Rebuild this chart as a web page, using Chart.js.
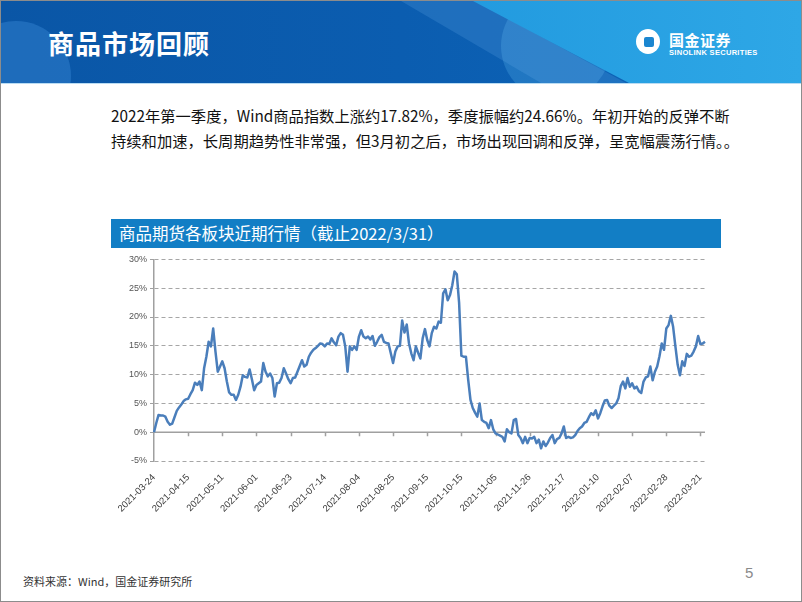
<!DOCTYPE html>
<html>
<head>
<meta charset="utf-8">
<script src="https://cdn.jsdelivr.net/npm/chart.js@4/dist/chart.umd.min.js"></script>
<style>
  html, body { margin: 0; padding: 0; background: #fff; }
  #page {
    position: relative; width: 800px; height: 600px; overflow: hidden;
    border: 1px solid #8c8c8c; background: #fff;
    font-family: "Noto Sans CJK SC", "Noto Sans", sans-serif;
  }
  #banner {
    position: absolute; left: 0; top: 0; width: 800px; height: 82px; overflow: hidden;
    background: linear-gradient(90deg, #0a56a6 0%, #0b5db0 50%, #0d66ba 100%);
    border-bottom: 1px solid #b9dcf3;
  }
  #banner .glow {
    position: absolute; left: -40px; top: 20px; width: 110px; height: 110px; border-radius: 50%;
    background: rgba(70,150,225,0.35);
  }
  #banner .band {
    position: absolute; left: 0; top: 0; width: 800px; height: 82px;
    background: rgba(120,190,245,0.18);
    clip-path: polygon(400px 0, 475px 0, 625px 82px, 540px 82px);
  }
  #banner .circle {
    position: absolute; left: 500px; top: -10px; width: 110px; height: 110px; border-radius: 50%;
    background: rgba(110,200,250,0.22);
  }
  #banner .light {
    position: absolute; left: 0; top: 0; width: 800px; height: 82px;
    background: linear-gradient(90deg, #1283cf 0%, #1d95dc 40%, #2ea7e6 100%);
    clip-path: polygon(472px 0, 800px 0, 800px 82px, 628px 82px);
  }
  #banner h1 {
    position: absolute; left: 47px; top: 23px; margin: 0;
    color: #fff; font-size: 26px; font-weight: bold; letter-spacing: 1px;
  }
  #logo-icon {
    position: absolute; left: 635px; top: 28px; width: 24px; height: 25px;
    background: #fff; border-radius: 50%;
  }
  #logo-icon div {
    position: absolute; left: 8px; top: 8px; width: 10px; height: 10px; background: #1b86d0; border-radius: 2px;
  }
  #logo-cn {
    position: absolute; left: 668px; top: 28px; color: #fff; font-size: 15px; font-weight: bold; letter-spacing: 0.5px;
  }
  #logo-en {
    position: absolute; left: 668px; top: 47px; color: #fff; font-size: 7.5px; font-weight: bold;
    font-family: "Liberation Sans", sans-serif; letter-spacing: 0.3px;
  }
  #intro {
    position: absolute; left: 110px; top: 102px; font-size: 15.3px; line-height: 25px;
    color: #111; white-space: nowrap;
  }
  #chart-title {
    position: absolute; left: 110px; top: 218px; width: 610px; height: 29px;
    background: #127ec5; color: #fff; font-size: 16.5px; line-height: 29px;
    padding-left: 8px; box-sizing: border-box;
  }
  #chart-wrap { position: absolute; left: 110px; top: 250px; width: 610px; height: 290px; }
  #source { position: absolute; left: 22px; top: 572px; font-size: 11px; color: #333; }
  #pageno { position: absolute; left: 744px; top: 563px; font-size: 15px; color: #8a8a8a;
    font-family: "Liberation Sans", sans-serif; }
</style>
</head>
<body>
<div id="page">
  <div id="banner">
    <div class="glow"></div>
    <div class="circle"></div>
    <div class="band"></div>
    <div class="light"></div>
    <h1>商品市场回顾</h1>
    <div id="logo-icon"><div></div></div>
    <div id="logo-cn">国金证券</div>
    <div id="logo-en">SINOLINK SECURITIES</div>
  </div>
  <div id="intro">2022年第一季度，Wind商品指数上涨约17.82%，季度振幅约24.66%。年初开始的反弹不断<br>持续和加速，长周期趋势性非常强，但3月初之后，市场出现回调和反弹，呈宽幅震荡行情。。</div>
  <div id="chart-title">商品期货各板块近期行情（截止2022/3/31）</div>
  <div id="chart-wrap"><canvas id="canvasIndex"></canvas></div>
  <div id="source">资料来源：Wind，国金证券研究所</div>
  <div id="pageno">5</div>
</div>

<script>
"use strict";

// x axis labels, one every 15 trading days
var tickLabels = [
	'2021-03-24', '2021-04-15', '2021-05-11', '2021-06-01', '2021-06-23',
	'2021-07-14', '2021-08-04', '2021-08-25', '2021-09-15', '2021-10-15',
	'2021-11-05', '2021-11-26', '2021-12-17', '2022-01-10', '2022-02-07',
	'2022-02-28', '2022-03-21'
];
var tickEvery = 15;

// Wind commodity index, % change since 2021-03-24 (daily)
var indexChange = [
	0.0, 1.6, 3.0, 2.9, 2.9, 2.7, 1.8, 1.3, 1.5, 2.6,
	3.7, 4.3, 4.8, 5.4, 5.7, 5.8, 6.6, 7.3, 8.6, 8.2,
	8.8, 7.3, 11.1, 13.1, 15.7, 14.9, 18.0, 14.0, 10.5, 11.4,
	12.3, 11.1, 8.8, 6.9, 6.5, 6.5, 5.6, 6.5, 7.9, 9.9,
	9.6, 9.5, 10.9, 9.2, 7.3, 8.2, 8.5, 8.8, 12.0, 10.5,
	9.7, 10.2, 9.4, 6.2, 8.5, 8.6, 9.4, 11.1, 10.2, 9.2,
	8.5, 9.4, 9.5, 10.5, 11.5, 12.5, 11.4, 11.7, 13.1, 13.8,
	14.3, 14.6, 15.0, 15.4, 15.3, 14.9, 15.4, 15.3, 16.3, 15.6,
	15.1, 16.6, 17.2, 16.9, 14.9, 10.5, 14.9, 14.3, 14.9, 14.3,
	16.6, 17.7, 16.6, 16.3, 16.6, 16.1, 16.7, 15.0, 15.7, 16.5,
	16.9, 15.7, 15.5, 15.4, 13.7, 12.0, 14.0, 14.9, 15.0, 19.4,
	17.3, 18.7, 15.4, 13.7, 12.5, 14.9, 13.8, 12.8, 16.3, 17.9,
	16.0, 14.9, 17.2, 18.3, 18.0, 19.2, 19.0, 24.1, 24.8, 22.9,
	23.8, 25.5, 27.9, 27.4, 22.5, 13.3, 13.1, 13.1, 9.1, 5.6,
	4.2, 3.4, 2.7, 5.0, 2.1, 1.8, 1.6, 0.7, 2.1, 0.5,
	-0.2, -0.4, -0.6, -0.8, -1.6, 0.5, 0.0, -0.2, 2.1, 2.3,
	-0.5, -1.0, -1.9, -0.8, -1.9, -1.0, -1.1, -0.8, -1.9, -1.3,
	-2.8, -1.6, -2.4, -1.8, -1.0, -0.5, -1.9, -1.2, -1.0, -0.2,
	1.0, -1.0, -0.8, -1.0, -0.9, -0.5, 0.2, 0.7, 1.0, 1.6,
	1.8, 2.6, 3.3, 3.0, 3.8, 2.4, 3.3, 4.5, 5.5, 5.6,
	4.6, 4.2, 4.6, 5.0, 5.9, 8.0, 8.8, 7.6, 9.4, 7.9,
	8.5, 7.6, 7.9, 7.1, 6.8, 8.8, 9.5, 9.7, 11.4, 9.0,
	10.5, 11.4, 13.2, 15.4, 14.3, 18.0, 18.6, 20.2, 18.3, 14.9,
	11.7, 9.9, 12.3, 11.5, 13.6, 13.1, 13.3, 14.0, 14.9, 16.7,
	15.3, 15.4, 15.7
];

var yMin = -5, yMax = 30, yStep = 5;

// category labels: a date every 15 points, blank otherwise
var labels = [];
for (var i = 0; i < indexChange.length; i++) {
	labels.push(i % tickEvery === 0 ? (tickLabels[i / tickEvery] || '') : '');
}

// solid 0% line with small tick marks, like the excel original
var zeroLinePlugin = {
	id: 'zeroLine',
	beforeDatasetsDraw: function (chart) {
		var ctx = chart.ctx;
		var xs = chart.scales.x;
		var ys = chart.scales.y;
		var y0 = ys.getPixelForValue(0);
		ctx.save();
		ctx.strokeStyle = '#a0a0a0';
		ctx.lineWidth = 1.5;
		ctx.beginPath();
		ctx.moveTo(chart.chartArea.left, y0);
		ctx.lineTo(chart.chartArea.right, y0);
		for (var k = tickEvery; k < indexChange.length; k += tickEvery) {
			var px = Math.round(xs.getPixelForValue(k)) + 0.5;
			ctx.moveTo(px, y0);
			ctx.lineTo(px, y0 + 4);
		}
		ctx.stroke();
		ctx.restore();
	}
};

const context = document.getElementById('canvasIndex');
const indexChart = new Chart(context, {
	type: 'line',
	data: {
		labels: labels,
		datasets: [{
			data: indexChange,
			borderColor: '#4a7ebb',
			borderWidth: 2.5,
			pointRadius: 0,
			tension: 0,
			borderJoinStyle: 'round',
			fill: false
		}]
	},
	options: {
		responsive: true,
		maintainAspectRatio: false,
		animation: false,
		layout: { padding: { top: 8, right: 16, left: 0, bottom: 0 } },
		plugins: {
			legend: { display: false },
			tooltip: { enabled: false }
		},
		scales: {
			x: {
				grid: { display: false },
				border: { display: false },
				ticks: {
					autoSkip: false,
					minRotation: 45,
					maxRotation: 45,
					padding: 3,
					color: '#3c3c3c',
					font: { family: 'Liberation Sans', size: 9.5 }
				},
				afterFit: function (scale) { scale.height = 80; }
			},
			y: {
				min: yMin,
				max: yMax,
				border: {
					display: true,
					color: '#a0a0a0',
					width: 1.5,
					dash: function (c) { return [4, 3]; }
				},
				grid: {
					color: function (c) { return c.tick && c.tick.value === 0 ? 'rgba(0,0,0,0)' : '#a6a6a6'; },
					lineWidth: 1,
					drawTicks: true,
					tickLength: 4,
					tickColor: '#a0a0a0',
					tickBorderDash: []
				},
				ticks: {
					stepSize: yStep,
					padding: 3,
					color: '#555',
					font: { family: 'Liberation Sans', size: 9 },
					callback: function (v) { return v + '%'; }
				},
				afterFit: function (scale) { scale.width = 43; }
			}
		}
	},
	plugins: [zeroLinePlugin]
});
</script>
</body>
</html>
